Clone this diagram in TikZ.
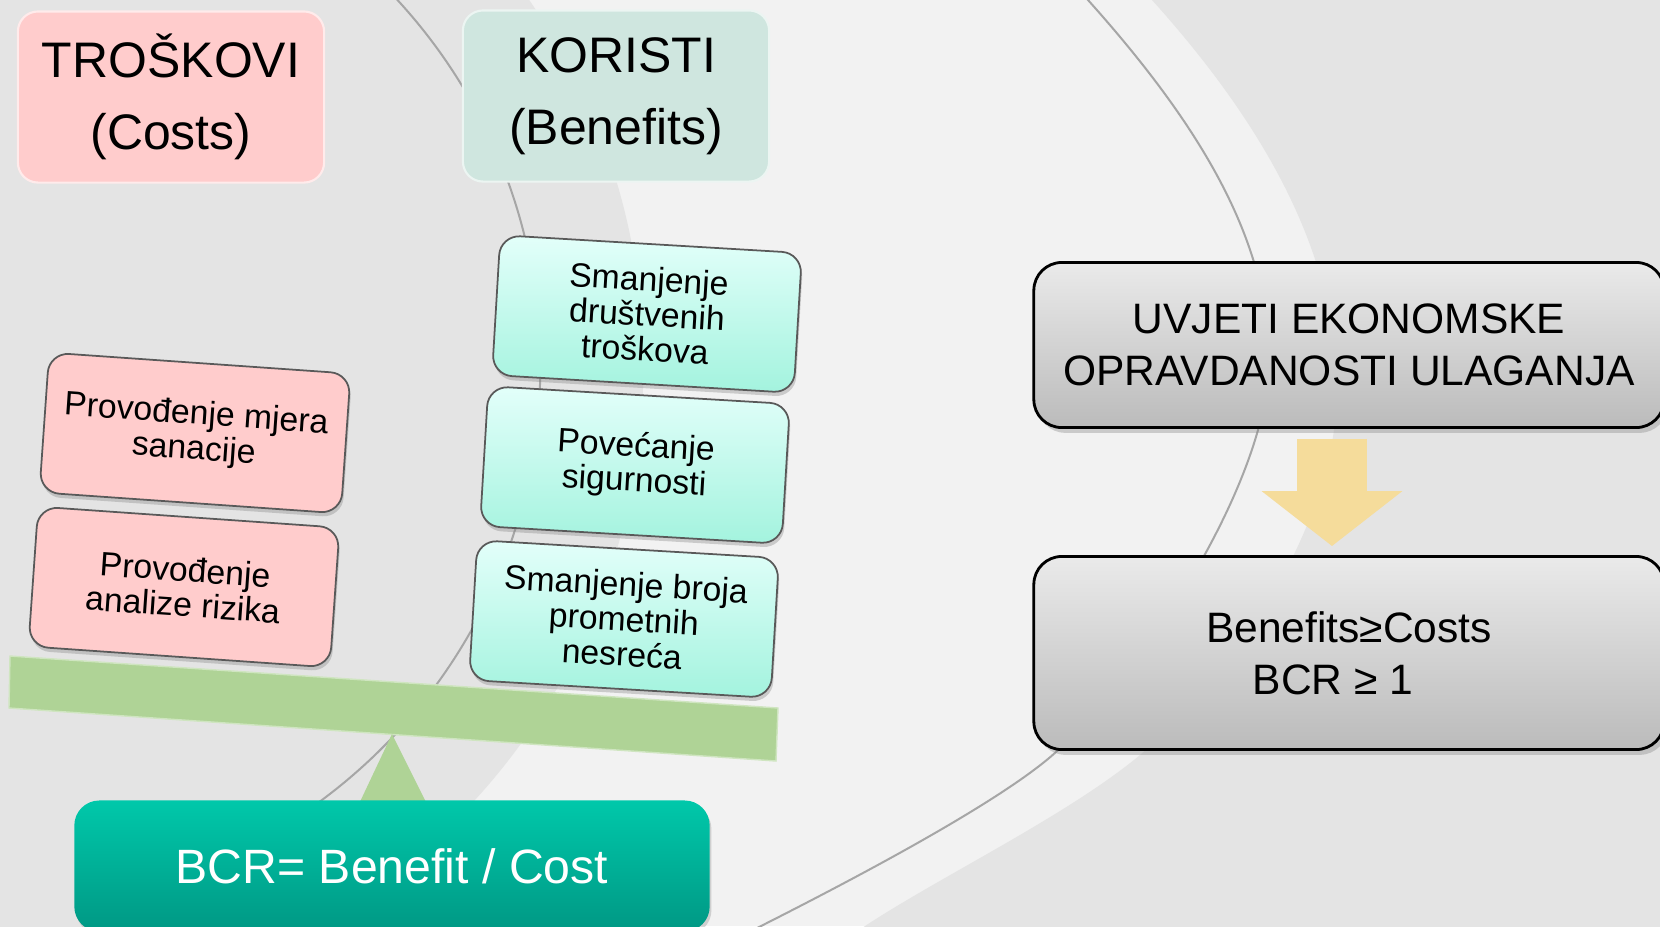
\documentclass[tikz,border=0pt]{standalone}
\usepackage{fontspec}
\setmainfont{Liberation Sans}
\usetikzlibrary{arrows.meta,shadows}

\definecolor{bglight}{HTML}{F2F2F2}
\definecolor{bgdark}{HTML}{E4E4E4}
\definecolor{arcgray}{HTML}{A6A6A6}
\definecolor{costpink}{HTML}{FFCCCC}
\definecolor{korfill}{HTML}{CFE6DF}
\definecolor{bentop}{HTML}{E3FFFA}
\definecolor{benbot}{HTML}{A3F3DE}
\definecolor{beamgreen}{HTML}{AFD396}
\definecolor{bcrtop}{HTML}{00C8AA}
\definecolor{bcrbot}{HTML}{009884}
\definecolor{condtop}{HTML}{EAEAEA}
\definecolor{condbot}{HTML}{BBBBBB}
\definecolor{arrowyel}{HTML}{F5DC9B}

\begin{document}
\begin{tikzpicture}
[x=0.01cm,y=-0.01cm,
 every node/.style={rectangle,align=center,inner sep=0pt},
 head/.style={rounded corners=0.2cm,minimum width=3.06cm,minimum height=1.71cm,
   fill=#1,draw=#1!40!white,line width=0.6pt,font=\fontsize{14.2pt}{20.5pt}\selectfont},
 smallbox/.style={rounded corners=0.2cm,minimum width=3.02cm,minimum height=1.40cm,
   draw=black!65,line width=0.5pt,font=\fontsize{9.6pt}{10pt}\selectfont,
   drop shadow={shadow xshift=0.4pt,shadow yshift=-1.2pt,opacity=0.35}},
 costbox/.style={smallbox,fill=costpink,rotate=-4},
 benbox/.style={smallbox,top color=bentop,bottom color=benbot,rotate=-3.4},
 condbox/.style={rounded corners=0.28cm,minimum width=6.3cm,draw=black,line width=0.8pt,
   top color=condtop,bottom color=condbot,font=\fontsize{12.1pt}{14.8pt}\selectfont,
   drop shadow={shadow xshift=1pt,shadow yshift=-1.5pt,opacity=0.35}},
 arcline/.style={arcgray,line width=0.02cm},
 bigarrow/.style={arrowyel,line width=0.69cm,-{Triangle[length=0.55cm,width=1.38cm]}}]

  \useasboundingbox (0,0) rectangle (1660,926);
  \clip (0,0) rectangle (1660,926);

  % background
  \fill[bglight] (0,0) rectangle (1660,926);
  \fill[bgdark] (1140,-15) -- (1152,0) .. controls (1260,120) and (1337,250) .. (1337,390)
    .. controls (1337,520) and (1236,675) .. (1140,755)
    .. controls (1068,815) and (941,876) .. (865,926) -- (845,940)
    -- (1670,940) -- (1670,-15) -- cycle;
  \fill[bgdark] (0,366) circle (6.43cm);
  \begin{scope}
    \clip (0,0) rectangle (1660,800);
    \draw[arcline] (0,366) circle (5.4cm);
  \end{scope}
  \draw[arcline] (1075,-15) -- (1088,0) .. controls (1200,125) and (1269,240) .. (1269,360)
    .. controls (1269,480) and (1144,672) .. (1056,752)
    .. controls (1001,802) and (850,881) .. (761,926) -- (740,937);

  % scale
  \fill[beamgreen,draw=beamgreen!60!white,line width=0.4pt]
    (10,656) -- (778,708) -- (776,761) -- (9,708) -- cycle;
  \fill[beamgreen] (392,734) -- (428,806) -- (358,806) -- cycle;

  \node[head=costpink] (tros) at (171,97) {TROŠKOVI\\(Costs)};
  \node[head=korfill] (kor) at (616,96) {KORISTI\\(Benefits)};

  \node[costbox] (c1) at (195,433) {Provođenje mjera\\sanacije};
  \node[costbox] (c2) at (184,587) {Provođenje\\analize rizika};

  \foreach \nm/\x/\y/\txt in {k1/647/314/{Smanjenje\\društvenih\\troškova},
      k2/635/465/{Povećanje\\sigurnosti},
      k3/624/619/{Smanjenje broja\\prometnih\\nesreća}}
    \node[benbox] (\nm) at (\x,\y) {\txt};

  \node[rounded corners=0.25cm,minimum width=6.35cm,minimum height=1.31cm,
    top color=bcrtop,bottom color=bcrbot,text=white,
    drop shadow={shadow xshift=0.5pt,shadow yshift=-1pt,opacity=0.3},
    font=\fontsize{13.7pt}{16pt}\selectfont] (bcr) at (392,866) {BCR= Benefit / Cost};

  \node[condbox,minimum height=1.65cm] (uv) at (1349,345) {UVJETI EKONOMSKE\\OPRAVDANOSTI ULAGANJA};
  \node[condbox,minimum height=1.93cm] (cond) at (1349,653) {Benefits≥Costs\\BCR ≥ 1\hspace*{0.32cm}};

  \draw[bigarrow] ([xshift=-0.17cm,yshift=-0.1cm]uv.south) -- ([xshift=-0.17cm,yshift=0.09cm]cond.north);

\end{tikzpicture}
\end{document}
